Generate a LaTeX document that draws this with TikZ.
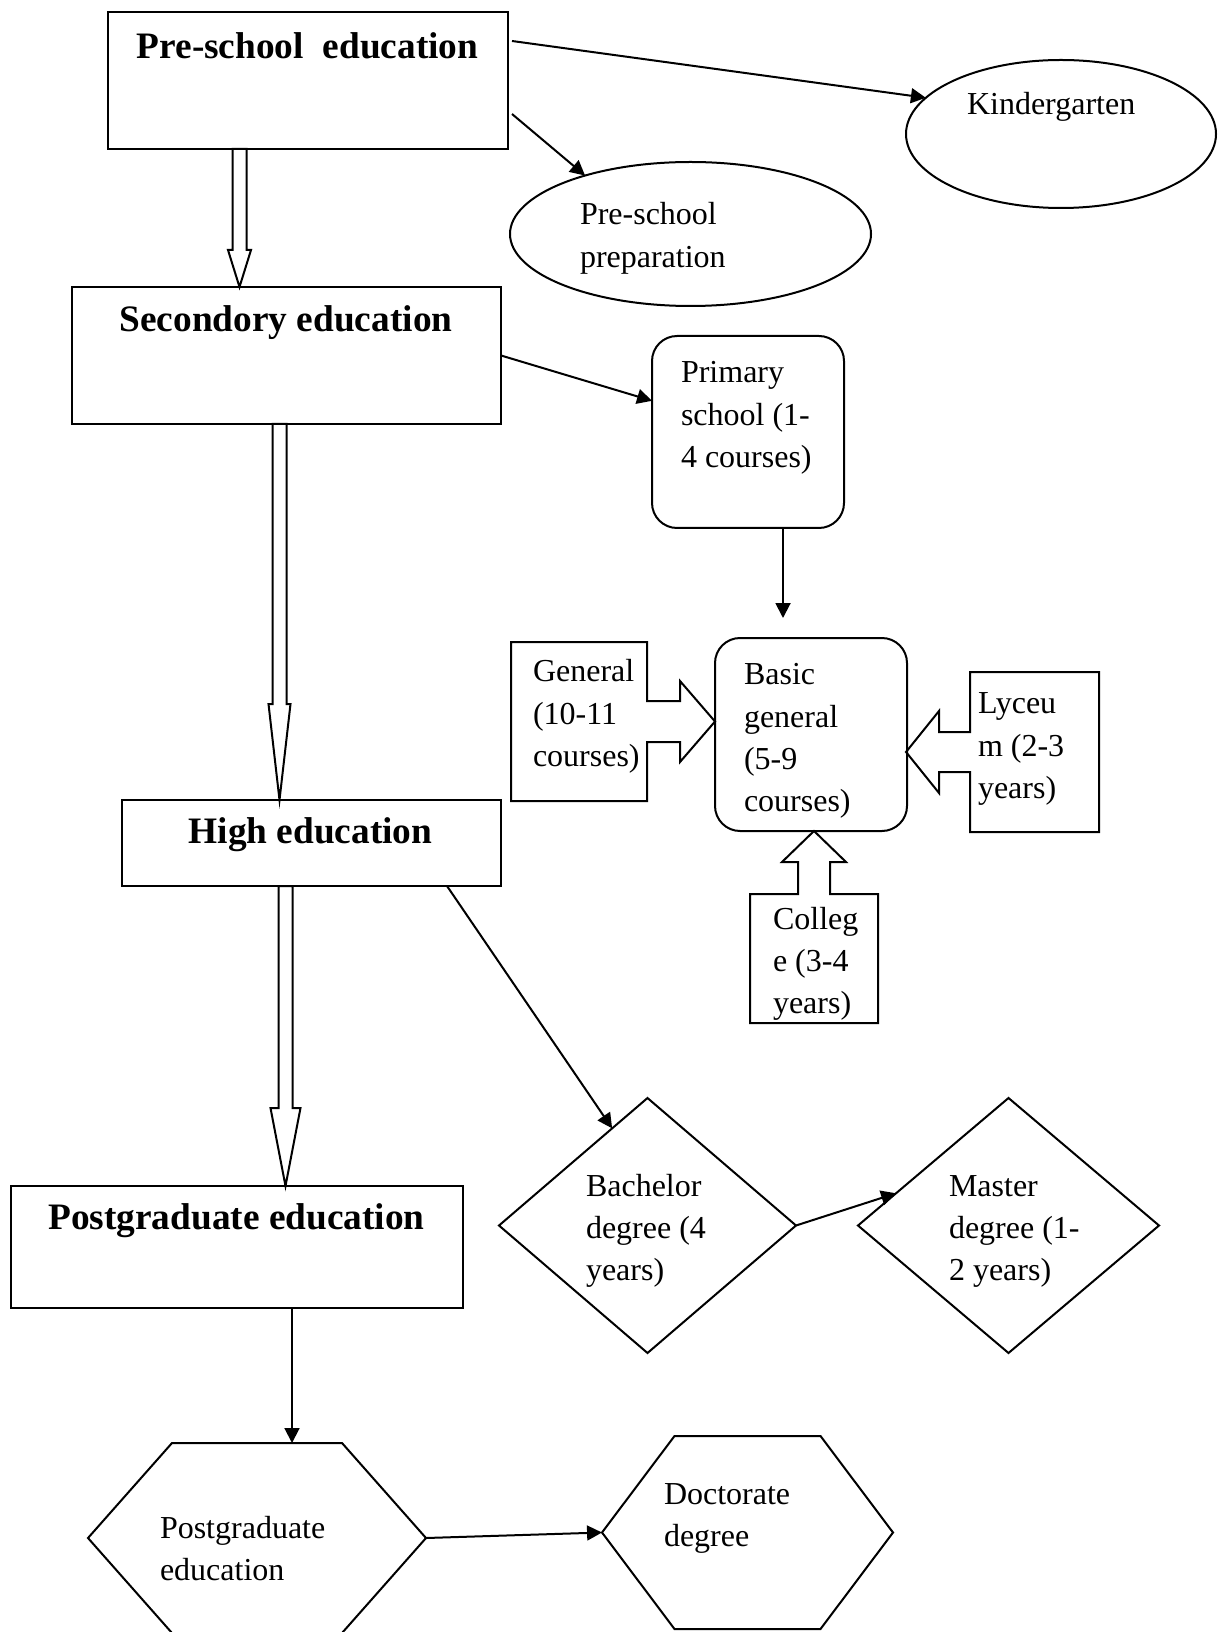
\documentclass[tikz,border=0pt]{standalone}
\usepackage{fontspec}
\setmainfont{Liberation Serif}
\usetikzlibrary{shapes.geometric,arrows.meta,calc}

\begin{document}
\begin{tikzpicture}[x=0.375pt, y=-0.375pt, line width=0.75pt,
  >={Triangle[length=5.6pt, width=5.6pt]},
  box/.style={draw, rectangle, inner sep=0pt, outer sep=0pt},
  frame/.style={rectangle, inner sep=0pt, outer sep=0pt},
  heading/.style={inner sep=0pt, anchor=base, font=\fontsize{14}{16.8}\selectfont\bfseries},
  txt/.style={inner sep=0pt, anchor=north west, align=left, font=\fontsize{12}{15.8}\selectfont},
  hollow/.style 2 args={to path={($(\tikztostart)+(-7,0)$) -- ($(\tikztotarget)+(-7,-#2)$) -- ($(\tikztotarget)+(-#1,-#2)$) -- (\tikztotarget) -- ($(\tikztotarget)+(#1,-#2)$) -- ($(\tikztotarget)+(7,-#2)$) -- ($(\tikztostart)+(7,0)$) -- cycle}}]
\useasboundingbox (0,0) rectangle (1226,1632);

\node[box, minimum width=150pt, minimum height=51.375pt] (pre) at (308,80.5) {};
\node[heading] (pretxt) at (307.5,59) {Pre-school\ \ education};
\node[draw, ellipse, inner sep=0pt, outer sep=0pt, minimum width=116.25pt, minimum height=55.5pt] (kind) at (1061,134) {};
\node[txt] (kindtxt) at (966,84.5) {\strut Kindergarten};
\node[draw, ellipse, inner sep=0pt, outer sep=0pt, minimum width=135.375pt, minimum height=54pt] (prep) at (690.5,234) {};
\node[txt] (preptxt) at (579,194.5) {\strut Pre-school\\preparation};

\node[box, minimum width=160.875pt, minimum height=51.375pt] (sec) at (286.5,355.5) {};
\node[heading] (sectxt) at (286,332) {Secondory education};
\node[box, rounded corners=9.4pt, minimum width=72pt, minimum height=72pt] (prim) at (748,432) {};
\node[txt] (primtxt) at (680,352.5) {\strut Primary\\school (1-\\4 courses)};
\node[box, rounded corners=9.4pt, minimum width=72pt, minimum height=72.375pt] (basic) at (811,734.5) {};
\node[txt] (basictxt) at (743,654.5) {\strut Basic\\general\\(5-9\\courses)};

\node[frame, minimum width=51pt, minimum height=59.625pt] (gen) at (579,721.5) {};
\draw (gen.north west) -- (gen.north east) -- ([shift={(0,-20.5)}]gen.east) -- ++(33,0) -- ++(0,-20) -- ++(35,40.5) -- ++(-35,40.5) -- ++(0,-20) -- ([shift={(0,20.5)}]gen.east) -- (gen.south east) -- (gen.south west) -- cycle;
\node[txt] (gentxt) at (532,651.5) {\strut General\\(10-11\\courses)};
\node[frame, minimum width=48.375pt, minimum height=60pt] (lyc) at (1034.5,752) {};
\draw (lyc.north west) -- (lyc.north east) -- (lyc.south east) -- (lyc.south west) -- ([shift={(0,20)}]lyc.west) -- ++(-31,0) -- ++(0,21) -- ++(-33,-41) -- ++(33,-41) -- ++(0,21) -- ([shift={(0,-20)}]lyc.west) -- cycle;
\node[txt] (lyctxt) at (977,683.5) {\strut Lyceu\\m (2-3\\years)};
\node[frame, minimum width=48pt, minimum height=48.375pt] (col) at (814,958.5) {};
\draw (col.north west) -- ([shift={(-16,0)}]col.north) -- ++(0,-32) -- ++(-16,0) -- ++(32,-31) -- ++(32,31) -- ++(-16,0) -- ([shift={(16,0)}]col.north) -- (col.north east) -- (col.south east) -- (col.south west) -- cycle;
\node[txt] (coltxt) at (772,898.5) {\strut Colleg\\e (3-4\\years)};

\node[box, minimum width=142.125pt, minimum height=32.25pt] (high) at (311.5,843) {};
\node[heading] (hightxt) at (310.5,843) {High education};
\node[draw, diamond, inner sep=0pt, outer sep=0pt, minimum width=111.375pt, minimum height=95.625pt] (bach) at (647.5,1225.5) {};
\node[txt] (bachtxt) at (585,1165.5) {\strut Bachelor\\degree (4\\years)};
\node[draw, diamond, inner sep=0pt, outer sep=0pt, minimum width=112.875pt, minimum height=95.625pt] (master) at (1008.5,1225.5) {};
\node[txt] (mastxt) at (948,1165.5) {\strut Master\\degree (1-\\2 years)};

\node[box, minimum width=169.5pt, minimum height=45.75pt] (pgbox) at (237,1247) {};
\node[heading] (pgboxtxt) at (236.5,1229) {Postgraduate education};
\node[frame, minimum width=126.75pt, minimum height=71.25pt] (pghex) at (257,1538) {};
\draw (pghex.west) -- ([shift={(84,0)}]pghex.north west) -- ([shift={(-84,0)}]pghex.north east) -- (pghex.east) -- ([shift={(-84,0)}]pghex.south east) -- ([shift={(84,0)}]pghex.south west) -- cycle;
\node[txt] (pgtxt) at (159,1507.5) {\strut Postgraduate\\education};
\node[frame, minimum width=109.125pt, minimum height=72.375pt] (doct) at (747.5,1532.5) {};
\draw (doct.west) -- ([shift={(72.5,0)}]doct.north west) -- ([shift={(-72.5,0)}]doct.north east) -- (doct.east) -- ([shift={(-72.5,0)}]doct.south east) -- ([shift={(72.5,0)}]doct.south west) -- cycle;
\node[txt] (doctxt) at (663,1473.5) {\strut Doctorate\\degree};

\draw[hollow={11.5}{37}] (239.5,0 |- pre.south) to (239.5,0 |- sec.north);
\draw[hollow={11}{96}] (279.5,0 |- sec.south) to (279.5,0 |- high.north);
\draw[hollow={15}{78}] (285.5,0 |- high.south) to (285.5,0 |- pgbox.north);

\draw[->] ([shift={(4,-39.5)}]pre.east) -- (kind.165);
\draw[->] ([shift={(4,33.5)}]pre.east) -- (prep.151);
\draw[->] (sec.east) -- (prim.162);
\draw[->] ([shift={(35,0)}]prim.south) -- ([shift={(-28,-20)}]basic.north);
\draw[->] ([shift={(135.5,0)}]high.south) -- (bach.110);
\draw[->] (bach.east) -- (master.164);
\draw[->] ([shift={(55,0)}]pgbox.south) -- ([shift={(35,0)}]pghex.north);
\draw[->] (pghex.east) -- (doct.west);
\end{tikzpicture}
\end{document}
